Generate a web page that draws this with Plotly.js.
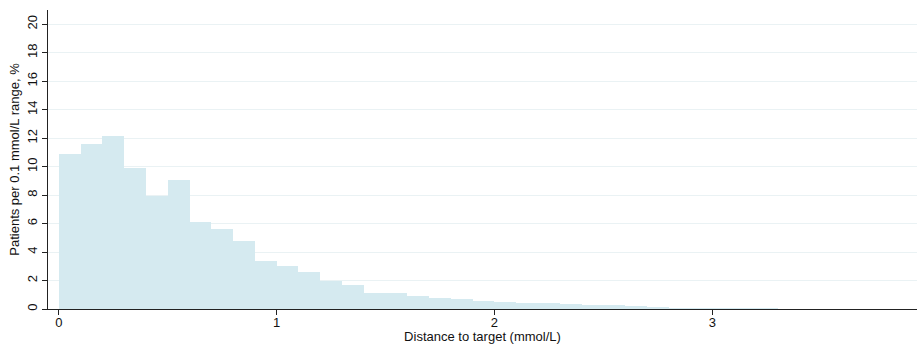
<!DOCTYPE html>
<html>
<head>
<meta charset="utf-8">
<script src="https://cdn.plot.ly/plotly-3.0.1.min.js"></script>
<style>
  html, body { margin: 0; padding: 0; background: #fff; }
  #chart { width: 918px; height: 344px; }
</style>
</head>
<body>
<div id="chart"></div>
<script>
// Left edge of each 0.1 mmol/L bin (distance to target)
const binLeft = [0.0, 0.1, 0.2, 0.3, 0.4, 0.5, 0.6, 0.7, 0.8, 0.9,
                 1.0, 1.1, 1.2, 1.3, 1.4, 1.5, 1.6, 1.7, 1.8, 1.9,
                 2.0, 2.1, 2.2, 2.3, 2.4, 2.5, 2.6, 2.7, 2.8, 2.9,
                 3.0, 3.1, 3.2, 3.3, 3.4, 3.5, 3.6, 3.7, 3.8];
// Share of patients in each bin, %
const patientsPct = [10.92, 11.58, 12.12, 9.89, 7.95, 9.05, 6.13, 5.61, 4.80, 3.36,
                     3.00, 2.57, 1.94, 1.67, 1.10, 1.10, 0.88, 0.75, 0.67, 0.59,
                     0.46, 0.41, 0.41, 0.32, 0.26, 0.29, 0.18, 0.16, 0.10, 0.09,
                     0.09, 0.04, 0.04, 0.03, 0.03, 0.03, 0.02, 0.02, 0.02];
const binWidth = 0.1;
const xTicks = [0, 1, 2, 3];
const yTicks = [0, 2, 4, 6, 8, 10, 12, 14, 16, 18, 20];

const font = { family: 'Liberation Sans, Arial, sans-serif', size: 13, color: '#111' };

Plotly.newPlot('chart', [{
  type: 'bar',
  x: binLeft,
  y: patientsPct,
  width: binWidth,
  offset: 0,
  marker: { color: '#d5eaf0', line: { width: 0 } },
  hoverinfo: 'x+y'
}], {
  width: 918,
  height: 344,
  margin: { l: 48, r: 1, t: 10, b: 35 },
  paper_bgcolor: '#fff',
  plot_bgcolor: '#fff',
  font: font,
  showlegend: false,
  bargap: 0,
  xaxis: {
    range: [-0.05, 3.94],
    tickvals: xTicks,
    ticktext: xTicks.map(String),
    ticks: 'outside',
    ticklen: 5,
    tickwidth: 1,
    tickcolor: '#222',
    ticklabelstandoff: -4,
    showline: true,
    linecolor: '#222',
    linewidth: 1,
    showgrid: false,
    zeroline: false,
    tickfont: font,
    title: { text: 'Distance to target (mmol/L)', font: font, standoff: 0 }
  },
  yaxis: {
    range: [0, 21],
    tickvals: yTicks,
    ticktext: yTicks.map(String),
    tickangle: -90,
    ticks: 'outside',
    ticklen: 5,
    tickwidth: 1,
    tickcolor: '#222',
    showline: true,
    linecolor: '#222',
    linewidth: 1,
    showgrid: true,
    gridcolor: '#eaf2f4',
    gridwidth: 1,
    zeroline: false,
    tickfont: font,
    title: { text: 'Patients per 0.1 mmol/L range, %', font: font, standoff: 2 }
  }
}, { displayModeBar: false, staticPlot: true });
</script>
</body>
</html>
